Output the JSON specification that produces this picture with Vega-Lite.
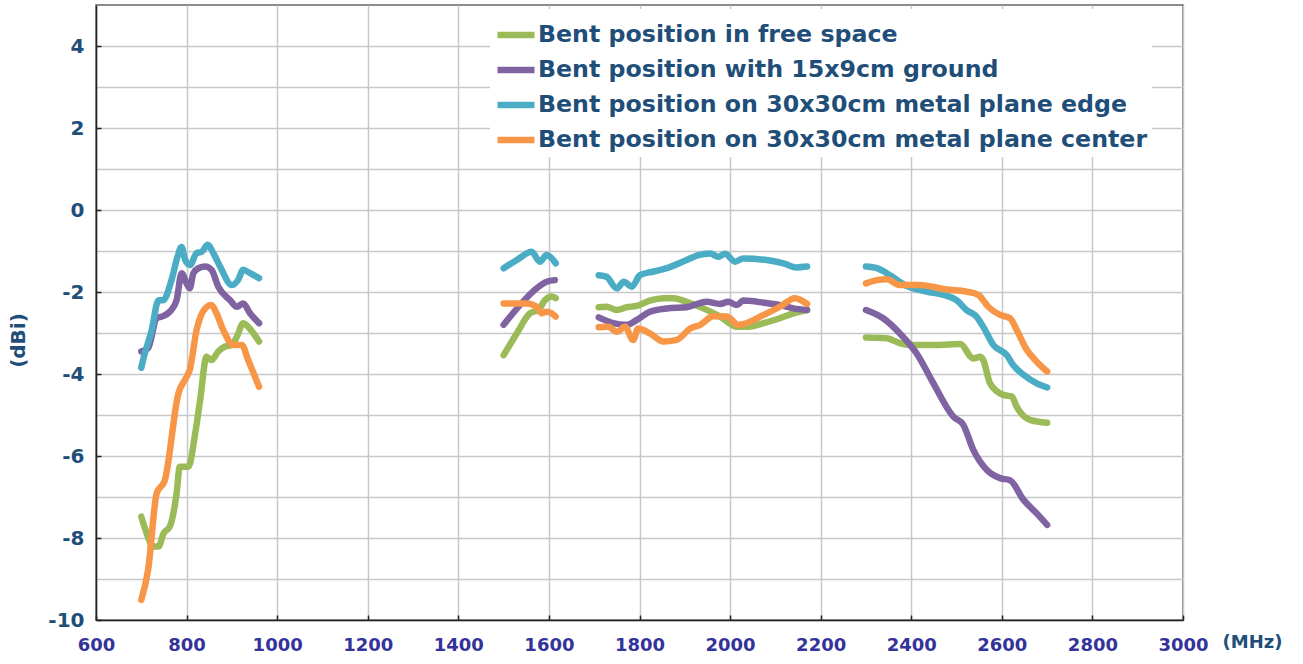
{
  "$schema": "https://vega.github.io/schema/vega-lite/v6.json",
  "autosize": {"type": "none"},
  "padding": {"left": 96, "top": 5, "right": 120, "bottom": 44},
  "width": 1087,
  "height": 615,
  "background": "white",
  "view": {"stroke": "#666", "strokeWidth": 1.5},
  "datasets": {
    "pts": [
      {"s":"Bent position in free space","g":1,"f":700,"v":-7.48},{"s":"Bent position in free space","g":1,"f":712,"v":-7.89},{"s":"Bent position in free space","g":1,"f":726,"v":-8.21},{"s":"Bent position in free space","g":1,"f":738,"v":-8.21},{"s":"Bent position in free space","g":1,"f":749,"v":-7.89},{"s":"Bent position in free space","g":1,"f":763,"v":-7.72},{"s":"Bent position in free space","g":1,"f":778,"v":-6.91},{"s":"Bent position in free space","g":1,"f":785,"v":-6.26},{"s":"Bent position in free space","g":1,"f":804,"v":-6.26},{"s":"Bent position in free space","g":1,"f":819,"v":-5.45},{"s":"Bent position in free space","g":1,"f":830,"v":-4.63},{"s":"Bent position in free space","g":1,"f":844,"v":-3.58},{"s":"Bent position in free space","g":1,"f":855,"v":-3.66},{"s":"Bent position in free space","g":1,"f":870,"v":-3.45},{"s":"Bent position in free space","g":1,"f":885,"v":-3.33},{"s":"Bent position in free space","g":1,"f":900,"v":-3.29},{"s":"Bent position in free space","g":1,"f":911,"v":-3.09},{"s":"Bent position in free space","g":1,"f":925,"v":-2.76},{"s":"Bent position in free space","g":1,"f":936,"v":-2.85},{"s":"Bent position in free space","g":1,"f":960,"v":-3.21},
      {"s":"Bent position in free space","g":2,"f":1500,"v":-3.54},{"s":"Bent position in free space","g":2,"f":1529,"v":-3.01},{"s":"Bent position in free space","g":2,"f":1558,"v":-2.52},{"s":"Bent position in free space","g":2,"f":1577,"v":-2.44},{"s":"Bent position in free space","g":2,"f":1591,"v":-2.2},{"s":"Bent position in free space","g":2,"f":1606,"v":-2.11},{"s":"Bent position in free space","g":2,"f":1615,"v":-2.15},
      {"s":"Bent position in free space","g":3,"f":1710,"v":-2.37},{"s":"Bent position in free space","g":3,"f":1727,"v":-2.36},{"s":"Bent position in free space","g":3,"f":1750,"v":-2.44},{"s":"Bent position in free space","g":3,"f":1772,"v":-2.37},{"s":"Bent position in free space","g":3,"f":1794,"v":-2.34},{"s":"Bent position in free space","g":3,"f":1823,"v":-2.21},{"s":"Bent position in free space","g":3,"f":1853,"v":-2.15},{"s":"Bent position in free space","g":3,"f":1875,"v":-2.15},{"s":"Bent position in free space","g":3,"f":1904,"v":-2.24},{"s":"Bent position in free space","g":3,"f":1941,"v":-2.4},{"s":"Bent position in free space","g":3,"f":1978,"v":-2.6},{"s":"Bent position in free space","g":3,"f":2015,"v":-2.85},{"s":"Bent position in free space","g":3,"f":2036,"v":-2.85},{"s":"Bent position in free space","g":3,"f":2074,"v":-2.76},{"s":"Bent position in free space","g":3,"f":2110,"v":-2.64},{"s":"Bent position in free space","g":3,"f":2140,"v":-2.52},{"s":"Bent position in free space","g":3,"f":2170,"v":-2.44},
      {"s":"Bent position in free space","g":4,"f":2300,"v":-3.11},{"s":"Bent position in free space","g":4,"f":2346,"v":-3.13},{"s":"Bent position in free space","g":4,"f":2375,"v":-3.25},{"s":"Bent position in free space","g":4,"f":2397,"v":-3.29},{"s":"Bent position in free space","g":4,"f":2456,"v":-3.29},{"s":"Bent position in free space","g":4,"f":2508,"v":-3.27},{"s":"Bent position in free space","g":4,"f":2537,"v":-3.62},{"s":"Bent position in free space","g":4,"f":2552,"v":-3.58},{"s":"Bent position in free space","g":4,"f":2559,"v":-3.66},{"s":"Bent position in free space","g":4,"f":2574,"v":-4.23},{"s":"Bent position in free space","g":4,"f":2603,"v":-4.51},{"s":"Bent position in free space","g":4,"f":2622,"v":-4.55},{"s":"Bent position in free space","g":4,"f":2633,"v":-4.8},{"s":"Bent position in free space","g":4,"f":2662,"v":-5.12},{"s":"Bent position in free space","g":4,"f":2700,"v":-5.19},

      {"s":"Bent position with 15x9cm ground","g":1,"f":700,"v":-3.45},{"s":"Bent position with 15x9cm ground","g":1,"f":715,"v":-3.37},{"s":"Bent position with 15x9cm ground","g":1,"f":734,"v":-2.64},{"s":"Bent position with 15x9cm ground","g":1,"f":745,"v":-2.6},{"s":"Bent position with 15x9cm ground","g":1,"f":763,"v":-2.48},{"s":"Bent position with 15x9cm ground","g":1,"f":778,"v":-2.2},{"s":"Bent position with 15x9cm ground","g":1,"f":789,"v":-1.54},{"s":"Bent position with 15x9cm ground","g":1,"f":800,"v":-1.79},{"s":"Bent position with 15x9cm ground","g":1,"f":807,"v":-1.91},{"s":"Bent position with 15x9cm ground","g":1,"f":815,"v":-1.54},{"s":"Bent position with 15x9cm ground","g":1,"f":826,"v":-1.42},{"s":"Bent position with 15x9cm ground","g":1,"f":841,"v":-1.38},{"s":"Bent position with 15x9cm ground","g":1,"f":855,"v":-1.46},{"s":"Bent position with 15x9cm ground","g":1,"f":870,"v":-1.87},{"s":"Bent position with 15x9cm ground","g":1,"f":896,"v":-2.2},{"s":"Bent position with 15x9cm ground","g":1,"f":911,"v":-2.36},{"s":"Bent position with 15x9cm ground","g":1,"f":925,"v":-2.28},{"s":"Bent position with 15x9cm ground","g":1,"f":940,"v":-2.52},{"s":"Bent position with 15x9cm ground","g":1,"f":960,"v":-2.76},
      {"s":"Bent position with 15x9cm ground","g":2,"f":1500,"v":-2.8},{"s":"Bent position with 15x9cm ground","g":2,"f":1536,"v":-2.32},{"s":"Bent position with 15x9cm ground","g":2,"f":1573,"v":-1.91},{"s":"Bent position with 15x9cm ground","g":2,"f":1595,"v":-1.75},{"s":"Bent position with 15x9cm ground","g":2,"f":1613,"v":-1.71},
      {"s":"Bent position with 15x9cm ground","g":3,"f":1710,"v":-2.62},{"s":"Bent position with 15x9cm ground","g":3,"f":1742,"v":-2.76},{"s":"Bent position with 15x9cm ground","g":3,"f":1772,"v":-2.8},{"s":"Bent position with 15x9cm ground","g":3,"f":1794,"v":-2.68},{"s":"Bent position with 15x9cm ground","g":3,"f":1823,"v":-2.48},{"s":"Bent position with 15x9cm ground","g":3,"f":1860,"v":-2.4},{"s":"Bent position with 15x9cm ground","g":3,"f":1904,"v":-2.37},{"s":"Bent position with 15x9cm ground","g":3,"f":1948,"v":-2.24},{"s":"Bent position with 15x9cm ground","g":3,"f":1978,"v":-2.29},{"s":"Bent position with 15x9cm ground","g":3,"f":1996,"v":-2.24},{"s":"Bent position with 15x9cm ground","g":3,"f":2015,"v":-2.32},{"s":"Bent position with 15x9cm ground","g":3,"f":2029,"v":-2.21},{"s":"Bent position with 15x9cm ground","g":3,"f":2074,"v":-2.26},{"s":"Bent position with 15x9cm ground","g":3,"f":2110,"v":-2.32},{"s":"Bent position with 15x9cm ground","g":3,"f":2140,"v":-2.4},{"s":"Bent position with 15x9cm ground","g":3,"f":2170,"v":-2.44},
      {"s":"Bent position with 15x9cm ground","g":4,"f":2300,"v":-2.44},{"s":"Bent position with 15x9cm ground","g":4,"f":2338,"v":-2.64},{"s":"Bent position with 15x9cm ground","g":4,"f":2375,"v":-3.01},{"s":"Bent position with 15x9cm ground","g":4,"f":2412,"v":-3.5},{"s":"Bent position with 15x9cm ground","g":4,"f":2449,"v":-4.23},{"s":"Bent position with 15x9cm ground","g":4,"f":2493,"v":-5.04},{"s":"Bent position with 15x9cm ground","g":4,"f":2515,"v":-5.24},{"s":"Bent position with 15x9cm ground","g":4,"f":2537,"v":-5.85},{"s":"Bent position with 15x9cm ground","g":4,"f":2567,"v":-6.34},{"s":"Bent position with 15x9cm ground","g":4,"f":2596,"v":-6.54},{"s":"Bent position with 15x9cm ground","g":4,"f":2618,"v":-6.59},{"s":"Bent position with 15x9cm ground","g":4,"f":2648,"v":-7.07},{"s":"Bent position with 15x9cm ground","g":4,"f":2677,"v":-7.4},{"s":"Bent position with 15x9cm ground","g":4,"f":2700,"v":-7.68},

      {"s":"Bent position on 30x30cm metal plane edge","g":1,"f":700,"v":-3.85},{"s":"Bent position on 30x30cm metal plane edge","g":1,"f":704,"v":-3.66},{"s":"Bent position on 30x30cm metal plane edge","g":1,"f":723,"v":-2.93},{"s":"Bent position on 30x30cm metal plane edge","g":1,"f":738,"v":-2.2},{"s":"Bent position on 30x30cm metal plane edge","g":1,"f":748,"v":-2.2},{"s":"Bent position on 30x30cm metal plane edge","g":1,"f":767,"v":-1.7},{"s":"Bent position on 30x30cm metal plane edge","g":1,"f":780,"v":-1.14},{"s":"Bent position on 30x30cm metal plane edge","g":1,"f":789,"v":-0.9},{"s":"Bent position on 30x30cm metal plane edge","g":1,"f":797,"v":-1.22},{"s":"Bent position on 30x30cm metal plane edge","g":1,"f":808,"v":-1.34},{"s":"Bent position on 30x30cm metal plane edge","g":1,"f":822,"v":-1.05},{"s":"Bent position on 30x30cm metal plane edge","g":1,"f":833,"v":-1.02},{"s":"Bent position on 30x30cm metal plane edge","g":1,"f":847,"v":-0.85},{"s":"Bent position on 30x30cm metal plane edge","g":1,"f":859,"v":-1.05},{"s":"Bent position on 30x30cm metal plane edge","g":1,"f":874,"v":-1.38},{"s":"Bent position on 30x30cm metal plane edge","g":1,"f":900,"v":-1.83},{"s":"Bent position on 30x30cm metal plane edge","g":1,"f":914,"v":-1.7},{"s":"Bent position on 30x30cm metal plane edge","g":1,"f":925,"v":-1.46},{"s":"Bent position on 30x30cm metal plane edge","g":1,"f":940,"v":-1.54},{"s":"Bent position on 30x30cm metal plane edge","g":1,"f":960,"v":-1.66},
      {"s":"Bent position on 30x30cm metal plane edge","g":2,"f":1500,"v":-1.42},{"s":"Bent position on 30x30cm metal plane edge","g":2,"f":1529,"v":-1.22},{"s":"Bent position on 30x30cm metal plane edge","g":2,"f":1562,"v":-1.02},{"s":"Bent position on 30x30cm metal plane edge","g":2,"f":1580,"v":-1.26},{"s":"Bent position on 30x30cm metal plane edge","g":2,"f":1595,"v":-1.1},{"s":"Bent position on 30x30cm metal plane edge","g":2,"f":1615,"v":-1.3},
      {"s":"Bent position on 30x30cm metal plane edge","g":3,"f":1710,"v":-1.59},{"s":"Bent position on 30x30cm metal plane edge","g":3,"f":1727,"v":-1.63},{"s":"Bent position on 30x30cm metal plane edge","g":3,"f":1750,"v":-1.91},{"s":"Bent position on 30x30cm metal plane edge","g":3,"f":1765,"v":-1.75},{"s":"Bent position on 30x30cm metal plane edge","g":3,"f":1783,"v":-1.87},{"s":"Bent position on 30x30cm metal plane edge","g":3,"f":1801,"v":-1.59},{"s":"Bent position on 30x30cm metal plane edge","g":3,"f":1831,"v":-1.5},{"s":"Bent position on 30x30cm metal plane edge","g":3,"f":1860,"v":-1.42},{"s":"Bent position on 30x30cm metal plane edge","g":3,"f":1904,"v":-1.22},{"s":"Bent position on 30x30cm metal plane edge","g":3,"f":1930,"v":-1.1},{"s":"Bent position on 30x30cm metal plane edge","g":3,"f":1956,"v":-1.06},{"s":"Bent position on 30x30cm metal plane edge","g":3,"f":1974,"v":-1.14},{"s":"Bent position on 30x30cm metal plane edge","g":3,"f":1989,"v":-1.07},{"s":"Bent position on 30x30cm metal plane edge","g":3,"f":2011,"v":-1.26},{"s":"Bent position on 30x30cm metal plane edge","g":3,"f":2029,"v":-1.18},{"s":"Bent position on 30x30cm metal plane edge","g":3,"f":2081,"v":-1.22},{"s":"Bent position on 30x30cm metal plane edge","g":3,"f":2118,"v":-1.3},{"s":"Bent position on 30x30cm metal plane edge","g":3,"f":2147,"v":-1.4},{"s":"Bent position on 30x30cm metal plane edge","g":3,"f":2170,"v":-1.38},
      {"s":"Bent position on 30x30cm metal plane edge","g":4,"f":2300,"v":-1.38},{"s":"Bent position on 30x30cm metal plane edge","g":4,"f":2324,"v":-1.42},{"s":"Bent position on 30x30cm metal plane edge","g":4,"f":2353,"v":-1.59},{"s":"Bent position on 30x30cm metal plane edge","g":4,"f":2386,"v":-1.83},{"s":"Bent position on 30x30cm metal plane edge","g":4,"f":2434,"v":-1.99},{"s":"Bent position on 30x30cm metal plane edge","g":4,"f":2471,"v":-2.07},{"s":"Bent position on 30x30cm metal plane edge","g":4,"f":2500,"v":-2.2},{"s":"Bent position on 30x30cm metal plane edge","g":4,"f":2522,"v":-2.44},{"s":"Bent position on 30x30cm metal plane edge","g":4,"f":2544,"v":-2.6},{"s":"Bent position on 30x30cm metal plane edge","g":4,"f":2559,"v":-2.85},{"s":"Bent position on 30x30cm metal plane edge","g":4,"f":2581,"v":-3.29},{"s":"Bent position on 30x30cm metal plane edge","g":4,"f":2611,"v":-3.54},{"s":"Bent position on 30x30cm metal plane edge","g":4,"f":2625,"v":-3.78},{"s":"Bent position on 30x30cm metal plane edge","g":4,"f":2648,"v":-4.02},{"s":"Bent position on 30x30cm metal plane edge","g":4,"f":2677,"v":-4.23},{"s":"Bent position on 30x30cm metal plane edge","g":4,"f":2700,"v":-4.33},

      {"s":"Bent position on 30x30cm metal plane center","g":1,"f":700,"v":-9.51},{"s":"Bent position on 30x30cm metal plane center","g":1,"f":715,"v":-8.78},{"s":"Bent position on 30x30cm metal plane center","g":1,"f":734,"v":-6.91},{"s":"Bent position on 30x30cm metal plane center","g":1,"f":752,"v":-6.59},{"s":"Bent position on 30x30cm metal plane center","g":1,"f":782,"v":-4.47},{"s":"Bent position on 30x30cm metal plane center","g":1,"f":800,"v":-4.07},{"s":"Bent position on 30x30cm metal plane center","g":1,"f":807,"v":-3.9},{"s":"Bent position on 30x30cm metal plane center","g":1,"f":822,"v":-2.93},{"s":"Bent position on 30x30cm metal plane center","g":1,"f":841,"v":-2.4},{"s":"Bent position on 30x30cm metal plane center","g":1,"f":855,"v":-2.32},{"s":"Bent position on 30x30cm metal plane center","g":1,"f":866,"v":-2.52},{"s":"Bent position on 30x30cm metal plane center","g":1,"f":881,"v":-2.93},{"s":"Bent position on 30x30cm metal plane center","g":1,"f":903,"v":-3.29},{"s":"Bent position on 30x30cm metal plane center","g":1,"f":922,"v":-3.29},{"s":"Bent position on 30x30cm metal plane center","g":1,"f":936,"v":-3.66},{"s":"Bent position on 30x30cm metal plane center","g":1,"f":960,"v":-4.31},
      {"s":"Bent position on 30x30cm metal plane center","g":2,"f":1500,"v":-2.28},{"s":"Bent position on 30x30cm metal plane center","g":2,"f":1551,"v":-2.28},{"s":"Bent position on 30x30cm metal plane center","g":2,"f":1573,"v":-2.36},{"s":"Bent position on 30x30cm metal plane center","g":2,"f":1584,"v":-2.52},{"s":"Bent position on 30x30cm metal plane center","g":2,"f":1595,"v":-2.48},{"s":"Bent position on 30x30cm metal plane center","g":2,"f":1606,"v":-2.52},{"s":"Bent position on 30x30cm metal plane center","g":2,"f":1615,"v":-2.6},
      {"s":"Bent position on 30x30cm metal plane center","g":3,"f":1710,"v":-2.86},{"s":"Bent position on 30x30cm metal plane center","g":3,"f":1731,"v":-2.85},{"s":"Bent position on 30x30cm metal plane center","g":3,"f":1750,"v":-2.97},{"s":"Bent position on 30x30cm metal plane center","g":3,"f":1768,"v":-2.85},{"s":"Bent position on 30x30cm metal plane center","g":3,"f":1786,"v":-3.17},{"s":"Bent position on 30x30cm metal plane center","g":3,"f":1797,"v":-2.89},{"s":"Bent position on 30x30cm metal plane center","g":3,"f":1823,"v":-3.01},{"s":"Bent position on 30x30cm metal plane center","g":3,"f":1853,"v":-3.21},{"s":"Bent position on 30x30cm metal plane center","g":3,"f":1882,"v":-3.17},{"s":"Bent position on 30x30cm metal plane center","g":3,"f":1912,"v":-2.89},{"s":"Bent position on 30x30cm metal plane center","g":3,"f":1934,"v":-2.8},{"s":"Bent position on 30x30cm metal plane center","g":3,"f":1963,"v":-2.59},{"s":"Bent position on 30x30cm metal plane center","g":3,"f":1993,"v":-2.6},{"s":"Bent position on 30x30cm metal plane center","g":3,"f":2018,"v":-2.8},{"s":"Bent position on 30x30cm metal plane center","g":3,"f":2074,"v":-2.56},{"s":"Bent position on 30x30cm metal plane center","g":3,"f":2110,"v":-2.36},{"s":"Bent position on 30x30cm metal plane center","g":3,"f":2143,"v":-2.15},{"s":"Bent position on 30x30cm metal plane center","g":3,"f":2170,"v":-2.29},
      {"s":"Bent position on 30x30cm metal plane center","g":4,"f":2300,"v":-1.79},{"s":"Bent position on 30x30cm metal plane center","g":4,"f":2324,"v":-1.71},{"s":"Bent position on 30x30cm metal plane center","g":4,"f":2346,"v":-1.69},{"s":"Bent position on 30x30cm metal plane center","g":4,"f":2375,"v":-1.83},{"s":"Bent position on 30x30cm metal plane center","g":4,"f":2419,"v":-1.83},{"s":"Bent position on 30x30cm metal plane center","g":4,"f":2478,"v":-1.94},{"s":"Bent position on 30x30cm metal plane center","g":4,"f":2522,"v":-1.99},{"s":"Bent position on 30x30cm metal plane center","g":4,"f":2548,"v":-2.07},{"s":"Bent position on 30x30cm metal plane center","g":4,"f":2570,"v":-2.36},{"s":"Bent position on 30x30cm metal plane center","g":4,"f":2596,"v":-2.56},{"s":"Bent position on 30x30cm metal plane center","g":4,"f":2618,"v":-2.64},{"s":"Bent position on 30x30cm metal plane center","g":4,"f":2633,"v":-2.93},{"s":"Bent position on 30x30cm metal plane center","g":4,"f":2655,"v":-3.41},{"s":"Bent position on 30x30cm metal plane center","g":4,"f":2677,"v":-3.7},{"s":"Bent position on 30x30cm metal plane center","g":4,"f":2700,"v":-3.94}
    ]
  },
  "data": {"name": "pts"},
  "mark": {"type": "line", "strokeWidth": 6.5, "strokeCap": "round", "strokeJoin": "round", "interpolate": "monotone", "clip": true},
  "encoding": {
    "x": {
      "field": "f", "type": "quantitative",
      "scale": {"domain": [600, 3000], "nice": false, "zero": false},
      "axis": {
        "values": [600, 800, 1000, 1200, 1400, 1600, 1800, 2000, 2200, 2400, 2600, 2800, 3000],
        "labelExpr": "'' + datum.value",
        "title": "(MHz)",
        "titleFont": "DejaVu Sans", "titleFontSize": 18, "titleFontWeight": "bold", "titleColor": "#1F4E79",
        "titleAnchor": "start", "titleAlign": "left", "titleBaseline": "middle", "titleX": 1126, "titleY": 22,
        "labelFont": "DejaVu Sans", "labelFontSize": 18, "labelFontWeight": "bold", "labelColor": "#333399",
        "labelPadding": 21, "labelOverlap": false, "labelFlush": false,
        "grid": true, "gridColor": "#c8c8c8", "gridWidth": 1.5,
        "domainColor": "#222", "domainWidth": 1.5,
        "ticks": true, "tickColor": "#222", "tickSize": -5, "tickWidth": 1.5
      }
    },
    "y": {
      "field": "v", "type": "quantitative",
      "scale": {"domain": [-10, 5], "nice": false, "zero": false},
      "axis": {
        "values": [-10, -9, -8, -7, -6, -5, -4, -3, -2, -1, 0, 1, 2, 3, 4],
        "labelExpr": "datum.value % 2 === 0 ? '' + datum.value : ''",
        "title": "(dBi)",
        "titleFont": "DejaVu Sans", "titleFontSize": 20, "titleFontWeight": "bold", "titleColor": "#1F4E79",
        "titleAngle": -90, "titleAnchor": "start", "titleAlign": "center", "titleBaseline": "middle", "titleX": -78, "titleY": 335,
        "labelFont": "DejaVu Sans", "labelFontSize": 20, "labelFontWeight": "bold", "labelColor": "#1F4E79",
        "labelPadding": 17, "labelOverlap": false, "labelFlush": false,
        "grid": true, "gridColor": "#c8c8c8", "gridWidth": 1.5,
        "domainColor": "#222", "domainWidth": 1.5,
        "ticks": true, "tickColor": "#222", "tickSize": -5, "tickWidth": 1.5,
        "tickOpacity": {"condition": {"test": "datum.value % 2 !== 0", "value": 0}, "value": 1}
      }
    },
    "color": {
      "field": "s", "type": "nominal",
      "scale": {
        "domain": ["Bent position in free space", "Bent position with 15x9cm ground", "Bent position on 30x30cm metal plane edge", "Bent position on 30x30cm metal plane center"],
        "range": ["#9BBB59", "#8064A2", "#4BACC6", "#F79646"]
      },
      "legend": {
        "title": null, "orient": "none", "legendX": 394, "legendY": 4,
        "fillColor": "white", "padding": 4,
        "symbolType": "M-1,0L1,0", "symbolSize": 1369, "symbolStrokeWidth": 6.5,
        "labelFont": "DejaVu Sans", "labelFontSize": 23.7, "labelFontWeight": "bold", "labelColor": "#1F4E79",
        "labelOffset": 0, "labelLimit": 1000, "rowPadding": -1.3
      }
    },
    "detail": {"field": "g", "type": "nominal"}
  }
}
